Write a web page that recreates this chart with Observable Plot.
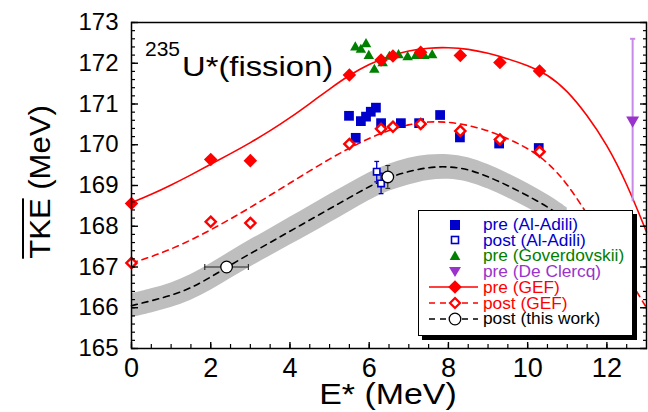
<!DOCTYPE html>
<html><head><meta charset="utf-8">
<script src="https://cdn.jsdelivr.net/npm/d3@7"></script>
<script src="https://cdn.jsdelivr.net/npm/@observablehq/plot@0.6"></script>
<style>
body{margin:0;background:#fff;font-family:"Liberation Sans",Arial,sans-serif;}
#wrap{position:relative;width:648px;height:412px;overflow:hidden;background:#fff;}
#chart{position:absolute;left:0;top:0;}
.ov{position:absolute;white-space:nowrap;color:#000;line-height:1;}
#legend{position:absolute;left:418px;top:210px;width:215px;height:126px;box-sizing:border-box;border:1.5px solid #000;background:#fff;box-shadow:4px 4px 0 #000;}
.lrow{position:absolute;left:0;height:16px;width:210px;}
.lrow svg{position:absolute;left:0;top:0;}
.lrow span{position:absolute;left:64px;top:0.5px;display:block;height:15px;line-height:15px;font-size:17.3px;white-space:nowrap;overflow:visible;}
</style></head><body>
<div id="wrap"><div id="chart"></div></div>
<script>
// ---- GEF calculations (points) ----
const gefE = [0, 2, 3, 5.5, 6.3, 6.6, 7.3, 8.3, 9.3, 10.3];
const gefPreTKE = [168.56, 169.64, 169.61, 171.71, 172.08, 172.18, 172.27, 172.19, 172.02, 171.81];
const gefPostTKE = [167.10, 168.11, 168.08, 170.02, 170.39, 170.44, 170.51, 170.34, 170.13, 169.83];

// ---- GEF curves ----
const curveE = [0,0.5,1,1.5,2,2.5,3,3.5,4,4.5,5,5.5,6,6.5,7,7.5,8,8.5,9,9.5,10,10.5,11,11.5,12,12.5,13];
const gefPreCurve = [168.58,168.78,169.01,169.26,169.52,169.78,170.05,170.34,170.66,171.01,171.37,171.71,171.98,172.18,172.31,172.38,172.39,172.35,172.25,172.11,171.95,171.73,171.33,170.73,170.01,169.06,167.86];
const gefPostCurve = [167.10,167.25,167.44,167.66,167.91,168.18,168.46,168.76,169.06,169.36,169.65,169.92,170.16,170.36,170.50,170.57,170.56,170.48,170.35,170.15,169.92,169.58,169.05,168.30,167.55,166.80,166.00];

// ---- this work: curve with uncertainty band ----
const twE = [0,0.5,1,1.5,2,2.5,3,3.5,4,4.5,5,5.5,6,6.5,7,7.5,8,8.5,9,9.5,10,10.5,11];
const twTKE = [166.05,166.17,166.30,166.48,166.75,167.05,167.33,167.60,167.88,168.15,168.43,168.70,168.98,169.20,169.35,169.45,169.47,169.40,169.22,169.00,168.75,168.48,168.15];
const twHi = [166.34,166.46,166.60,166.80,167.08,167.38,167.67,167.94,168.22,168.50,168.78,169.05,169.32,169.53,169.68,169.76,169.77,169.70,169.52,169.30,169.05,168.78,168.45];
const twLo = [165.76,165.87,166.00,166.17,166.42,166.72,167.00,167.27,167.54,167.80,168.08,168.35,168.64,168.87,169.02,169.14,169.17,169.10,168.92,168.70,168.45,168.18,167.85];

// ---- this work: points ----
const twPtE = [2.40, 6.47];
const twPtTKE = [167.00, 169.21];
const twPtXerr = [0.55, 0];
const twPtYerr = [0, 0.28];

// ---- Al-Adili ----
const aaPreE = [5.49, 5.66, 5.79, 5.92, 6.04, 6.17, 6.30, 6.80, 7.26, 7.79, 8.29, 9.28, 10.28];
const aaPreTKE = [170.71, 170.17, 170.58, 170.69, 170.81, 170.91, 170.53, 170.53, 170.53, 170.73, 170.18, 170.03, 169.92];
const aaPostE = [6.19, 6.30];
const aaPostTKE = [169.34, 169.05];
const aaPostErr = [0.25, 0.25];

// ---- Goverdovskii ----
const govE = [5.65, 5.79, 5.92, 5.99, 6.13, 6.34, 6.51, 6.74, 6.97, 7.18, 7.39, 7.59];
const govTKE = [172.39, 172.33, 172.47, 172.18, 171.84, 172.00, 172.16, 172.20, 172.15, 172.18, 172.18, 172.20];

// ---- De Clercq ----
const dcE = [12.65];
const dcTKE = [170.60];
const dcErr = [2.0];

// ---- axes ----
const xMajor = [0, 2, 4, 6, 8, 10, 12];
const xMinor = d3.range(0, 26).map(i => i * 0.5);
const yMajor = [165, 166, 167, 168, 169, 170, 171, 172, 173];
const yMinor = d3.range(0, 41).map(i => 165 + i * 0.2);

// ---- legend ----
const legendLabels = ["pre (Al-Adili)", "post (Al-Adili)", "pre (Goverdovskii)", "pre (De Clercq)", "pre (GEF)", "post (GEF)", "post (this work)"];
const legendColors = ["#0000cc", "#0000cc", "#008000", "#9933cc", "#ff0000", "#ff0000", "#000000"];

const RED = "#ff0000", BLUE = "#0000cc", GREEN = "#008000", PURPLE = "#9933cc", PURPLE_BAR = "#c88ae6", BAND = "#bebebe";

const zip = (xs, ys, extra = {}) => xs.map((x, i) => {
  const o = {x, y: ys[i]};
  for (const k in extra) o[k] = extra[k][i];
  return o;
});

const gefPre = zip(gefE, gefPreTKE);
const gefPost = zip(gefE, gefPostTKE);
const preCurve = zip(curveE, gefPreCurve);
const postCurve = zip(curveE, gefPostCurve);
const tw = zip(twE, twTKE, {hi: twHi, lo: twLo});
const twPts = zip(twPtE, twPtTKE, {xe: twPtXerr, ye: twPtYerr});
const aaPre = zip(aaPreE, aaPreTKE);
const aaPost = zip(aaPostE, aaPostTKE, {e: aaPostErr});
const gov = zip(govE, govTKE);
const dc = zip(dcE, dcTKE, {e: dcErr});

const hcap = {draw(ctx, size) { const w = Math.sqrt(size / Math.PI); ctx.moveTo(-w, 0); ctx.lineTo(w, 0); }};
const vcap = {draw(ctx, size) { const w = Math.sqrt(size / Math.PI); ctx.moveTo(0, -w); ctx.lineTo(0, w); }};

const twYbars = twPts.filter(d => d.ye > 0);
const twXbars = twPts.filter(d => d.xe > 0);

const chart = Plot.plot({
  width: 648,
  height: 412,
  marginLeft: 131,
  marginRight: 2,
  marginTop: 22,
  marginBottom: 64,
  x: {domain: [0, 13]},
  y: {domain: [165, 173]},
  style: {fontFamily: "'Liberation Sans', Arial, sans-serif", background: "transparent", color: "#000"},
  marks: [
    Plot.areaY(tw, {x: "x", y1: "lo", y2: "hi", fill: BAND, curve: "basis"}),
    Plot.line(tw, {x: "x", y: "y", stroke: "#000", strokeWidth: 1.6, strokeDasharray: "6,5", curve: "basis"}),
    Plot.line(postCurve, {x: "x", y: "y", stroke: RED, strokeWidth: 1.6, strokeDasharray: "6,5", curve: "basis"}),
    Plot.line(preCurve, {x: "x", y: "y", stroke: RED, strokeWidth: 1.6, curve: "basis"}),
    // De Clercq error bar
    Plot.ruleX(dc, {x: "x", y1: d => d.y - d.e, y2: d => d.y + d.e, stroke: PURPLE_BAR, strokeWidth: 2}),
    Plot.dot(dc, {x: "x", y: d => d.y + d.e, symbol: hcap, r: 2.6, stroke: PURPLE_BAR, strokeWidth: 2, fill: "none"}),
    Plot.dot(gov, {x: "x", y: "y", symbol: "triangle", r: 3.9, fill: GREEN, stroke: "none"}),
    Plot.dot(aaPre, {x: "x", y: "y", symbol: "square", r: 5.5, fill: BLUE, stroke: "none"}),
    Plot.dot(gefPre, {x: "x", y: "y", symbol: "diamond2", r: 6.1, fill: RED, stroke: "none"}),
    Plot.dot(gefPost, {x: "x", y: "y", symbol: "diamond2", r: 4.6, fill: "white", stroke: RED, strokeWidth: 2.4}),
    // Al-Adili post with error bars
    Plot.ruleX(aaPost, {x: "x", y1: d => d.y - d.e, y2: d => d.y + d.e, stroke: BLUE, strokeWidth: 1.3}),
    Plot.dot(aaPost, {x: "x", y: d => d.y + d.e, symbol: hcap, r: 2.4, stroke: BLUE, strokeWidth: 1.3, fill: "none"}),
    Plot.dot(aaPost, {x: "x", y: d => d.y - d.e, symbol: hcap, r: 2.4, stroke: BLUE, strokeWidth: 1.3, fill: "none"}),
    Plot.dot(aaPost, {x: "x", y: "y", symbol: "square", r: 3.6, fill: "white", stroke: BLUE, strokeWidth: 1.6}),
    // this work points
    Plot.ruleX(twYbars, {x: "x", y1: d => d.y - d.ye, y2: d => d.y + d.ye, stroke: "#222", strokeWidth: 1.1}),
    Plot.dot(twYbars, {x: "x", y: d => d.y + d.ye, symbol: hcap, r: 2.4, stroke: "#222", strokeWidth: 1.1, fill: "none"}),
    Plot.dot(twYbars, {x: "x", y: d => d.y - d.ye, symbol: hcap, r: 2.4, stroke: "#222", strokeWidth: 1.1, fill: "none"}),
    Plot.ruleY(twXbars, {y: "y", x1: d => d.x - d.xe, x2: d => d.x + d.xe, stroke: "#222", strokeWidth: 1.1}),
    Plot.dot(twXbars, {x: d => d.x - d.xe, y: "y", symbol: vcap, r: 3, stroke: "#222", strokeWidth: 1.1, fill: "none"}),
    Plot.dot(twXbars, {x: d => d.x + d.xe, y: "y", symbol: vcap, r: 3, stroke: "#222", strokeWidth: 1.1, fill: "none"}),
    Plot.dot(twPts, {x: "x", y: "y", r: 5.8, fill: "white", stroke: "#000", strokeWidth: 1.3}),
    // De Clercq marker
    Plot.dot(dc, {x: "x", y: "y", symbol: "triangle", rotate: 180, r: 4.8, fill: PURPLE, stroke: "none"}),
    // frame and axes
    Plot.frame({stroke: "#000", strokeWidth: 1.5}),
    Plot.axisY({ticks: yMajor, tickSize: 0, tickPadding: 13, fontSize: 24, label: null}),
    Plot.axisY({ticks: yMinor, tickSize: 4, dx: 4, tickFormat: () => "", label: null, strokeWidth: 1.2}),
    Plot.axisY({ticks: yMajor, tickSize: 7, dx: 7, tickFormat: () => "", label: null, strokeWidth: 1.4}),
    Plot.axisY({anchor: "right", ticks: yMinor, tickSize: 4, dx: -4, tickFormat: () => "", label: null, strokeWidth: 1.2}),
    Plot.axisY({anchor: "right", ticks: yMajor, tickSize: 7, dx: -7, tickFormat: () => "", label: null, strokeWidth: 1.4}),
    Plot.axisX({ticks: xMajor, tickSize: 0, tickPadding: 9, fontSize: 27, label: null}),
    Plot.axisX({ticks: xMinor, tickSize: 4, dy: -4, tickFormat: () => "", label: null, strokeWidth: 1.2}),
    Plot.axisX({ticks: xMajor, tickSize: 6, dy: -6, tickFormat: () => "", label: null, strokeWidth: 1.4})
  ]
});
const wrap = document.getElementById("wrap");
document.getElementById("chart").appendChild(chart);

// ---- text overlays ----
function ov(html, css) {
  const d = document.createElement("div");
  d.className = "ov";
  d.innerHTML = html;
  Object.assign(d.style, css);
  wrap.appendChild(d);
  return d;
}
ov("235", {left: "145px", top: "38px", fontSize: "21px"});
ov("U*(fission)", {left: "182px", top: "53px", fontSize: "28px", transform: "scaleX(1.17)", transformOrigin: "0 0"});
ov("E* (MeV)", {left: "288px", top: "379px", width: "200px", textAlign: "center", fontSize: "30px", transform: "scaleX(1.13)", transformOrigin: "50% 0"});
ov('<span style="text-decoration:overline;text-decoration-thickness:2px;">TKE</span> (MeV)',
   {left: "-70px", top: "167px", width: "220px", textAlign: "center", fontSize: "29px", lineHeight: "30px", transform: "rotate(-90deg) scaleX(1.07)", transformOrigin: "50% 50%"});

// ---- legend ----
const leg = document.createElement("div");
leg.id = "legend";
wrap.appendChild(leg);
const ns = "http://www.w3.org/2000/svg";
function legendSymbol(i) {
  const c = legendColors[i];
  switch (i) {
    case 0: return `<rect x="31" y="3" width="10" height="10" fill="${c}"/>`;
    case 1: return `<rect x="32.5" y="4.5" width="7" height="7" fill="white" stroke="${c}" stroke-width="1.6"/>`;
    case 2: return `<path d="M36,2.5 L41.3,12 L30.7,12 Z" fill="${c}"/>`;
    case 3: return `<path d="M30,3 L42,3 L36,13 Z" fill="${c}"/>`;
    case 4: return `<line x1="10" x2="59" y1="8" y2="8" stroke="${c}" stroke-width="1.6"/><path d="M36,1.2 L42.8,8 L36,14.8 L29.2,8 Z" fill="${c}"/>`;
    case 5: return `<line x1="10" x2="59" y1="8" y2="8" stroke="${c}" stroke-width="1.6" stroke-dasharray="6,5"/><path d="M36,3 L41,8 L36,13 L31,8 Z" fill="white" stroke="${c}" stroke-width="2.2"/>`;
    case 6: return `<line x1="10" x2="59" y1="8" y2="8" stroke="${c}" stroke-width="1.6" stroke-dasharray="6,5"/><circle cx="36" cy="8" r="5.8" fill="white" stroke="${c}" stroke-width="1.3"/>`;
  }
}
legendLabels.forEach((lab, i) => {
  const row = document.createElement("div");
  row.className = "lrow";
  row.style.top = (5.5 + i * 15.7) + "px";
  row.innerHTML = `<svg width="62" height="16" xmlns="${ns}">${legendSymbol(i)}</svg><span style="color:${legendColors[i]}">${lab}</span>`;
  leg.appendChild(row);
});
</script></body></html>
